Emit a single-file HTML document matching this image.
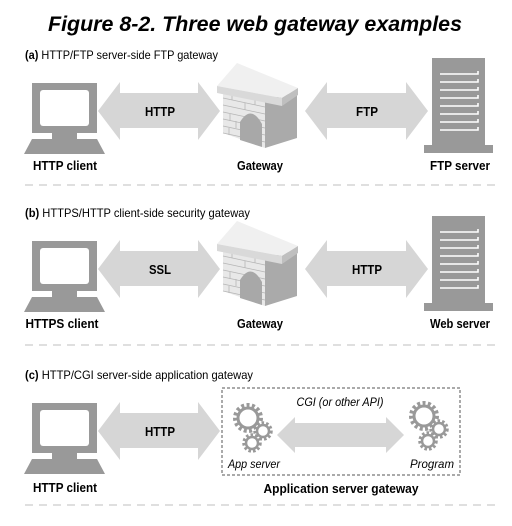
<!DOCTYPE html>
<html><head><meta charset="utf-8"><style>
html,body{margin:0;padding:0;background:#fff;}
svg{display:block;}
.t{font-family:"Liberation Sans Narrow","Liberation Sans",sans-serif;}
</style></head><body>
<svg width="512" height="526" viewBox="0 0 512 526" xmlns="http://www.w3.org/2000/svg">
<defs>
<g id="pc">
<rect x="32" y="83" width="65" height="50" fill="#999"/>
<rect x="40" y="90" width="49" height="36" rx="3" fill="#fff"/>
<rect x="52" y="133" width="25" height="6" fill="#999"/>
<polygon points="32,139 97,139 105,154 24,154" fill="#999"/>
</g>
<polygon id="arL" points="98,111 120,82 120,93 198,93 198,82 220,111 198,140 198,128 120,128 120,140" fill="#d6d6d6"/>
<polygon id="arR" points="305,111 327,82 327,93 406,93 406,82 428,111 406,140 406,128 327,128 327,140" fill="#d6d6d6"/>
<g id="gw">
<polygon points="223,91 265,100 265,148 223,133" fill="#e8e8e8"/>
<polygon points="265,100 297,92 297,138 265,148" fill="#aaa"/>
<g stroke="#b5b5b5" stroke-width="0.8">
<line x1="223" y1="98" x2="265" y2="107"/><line x1="223" y1="105" x2="265" y2="114"/>
<line x1="223" y1="112" x2="265" y2="121"/><line x1="223" y1="119" x2="265" y2="128"/>
<line x1="223" y1="126" x2="265" y2="135"/><line x1="223" y1="133" x2="265" y2="142"/>
<line x1="232" y1="93" x2="232" y2="100"/><line x1="245" y1="103" x2="245" y2="110"/><line x1="255" y1="98" x2="255" y2="105"/>
<line x1="230" y1="114" x2="230" y2="121"/><line x1="236" y1="121" x2="236" y2="128"/>
<line x1="229" y1="128" x2="229" y2="135"/><line x1="258" y1="121" x2="258" y2="128"/>
</g>
<path d="M240,140 L240,122 Q251,104 262,124 L262,147 Z" fill="#a8a8a8"/>
<polygon points="217,86 237,63 298,88 282,98" fill="#f0f0f0"/>
<polygon points="217,86 282,98 282,106 217,93" fill="#d9d9d9"/>
<polygon points="282,98 298,88 298,95 282,106" fill="#bfbfbf"/>
</g>
<g id="srv">
<rect x="432" y="58" width="53" height="89" fill="#999"/>
<rect x="424" y="145" width="69" height="8" fill="#999"/>
<g stroke="#fff" stroke-width="1.6" fill="none">
<path d="M440,74 H478 V71"/><path d="M440,82 H478 V79"/><path d="M440,90 H478 V87"/>
<path d="M440,98 H478 V95"/><path d="M440,106 H478 V103"/><path d="M440,114 H478 V111"/>
<path d="M440,122 H478 V119"/><path d="M440,130 H478 V127"/>
</g>
</g>
<g id="gears" fill="#fff" stroke="#999">
<circle cx="0" cy="0" r="13" stroke-width="4" stroke-dasharray="3 2.4"/>
<circle cx="0" cy="0" r="10" stroke-width="3"/>
<circle cx="15" cy="13" r="8" stroke-width="3.5" stroke-dasharray="2.5 2"/>
<circle cx="15" cy="13" r="6" stroke-width="2.5"/>
<circle cx="4" cy="25" r="8" stroke-width="3.5" stroke-dasharray="2.5 2"/>
<circle cx="4" cy="25" r="6" stroke-width="2.5"/>
</g>
<line id="sep" x1="25" y1="0" x2="495" y2="0" stroke="#ccc" stroke-width="1.2" stroke-dasharray="8 6"/>
</defs>

<text x="255" y="31" text-anchor="middle" font-family="Liberation Sans,sans-serif" font-weight="bold" font-style="italic" font-size="21" textLength="414" lengthAdjust="spacingAndGlyphs">Figure 8-2. Three web gateway examples</text>

<!-- (a) -->
<text class="t" x="25" y="59" font-size="12" textLength="193" lengthAdjust="spacingAndGlyphs"><tspan font-weight="bold">(a)</tspan> HTTP/FTP server-side FTP gateway</text>
<use href="#pc"/>
<use href="#arL"/><use href="#arR"/>
<use href="#gw"/><use href="#srv"/>
<g class="t" font-weight="bold" font-size="13" text-anchor="middle">
<text x="160" y="116" textLength="30" lengthAdjust="spacingAndGlyphs">HTTP</text>
<text x="367" y="116" textLength="22" lengthAdjust="spacingAndGlyphs">FTP</text>
<text x="65" y="170" textLength="64" lengthAdjust="spacingAndGlyphs">HTTP client</text>
<text x="260" y="170" textLength="46" lengthAdjust="spacingAndGlyphs">Gateway</text>
<text x="460" y="170" textLength="60" lengthAdjust="spacingAndGlyphs">FTP server</text>
</g>
<use href="#sep" y="185"/>

<!-- (b) -->
<text class="t" x="25" y="217" font-size="12" textLength="225" lengthAdjust="spacingAndGlyphs"><tspan font-weight="bold">(b)</tspan> HTTPS/HTTP client-side security gateway</text>
<g transform="translate(0,158)">
<use href="#pc"/>
<use href="#arL"/><use href="#arR"/>
<use href="#gw"/><use href="#srv"/>
<g class="t" font-weight="bold" font-size="13" text-anchor="middle">
<text x="160" y="116" textLength="22" lengthAdjust="spacingAndGlyphs">SSL</text>
<text x="367" y="116" textLength="30" lengthAdjust="spacingAndGlyphs">HTTP</text>
<text x="62" y="170" textLength="73" lengthAdjust="spacingAndGlyphs">HTTPS client</text>
<text x="260" y="170" textLength="46" lengthAdjust="spacingAndGlyphs">Gateway</text>
<text x="460" y="170" textLength="60" lengthAdjust="spacingAndGlyphs">Web server</text>
</g>
</g>
<use href="#sep" y="345"/>

<!-- (c) -->
<text class="t" x="25" y="379" font-size="12" textLength="228" lengthAdjust="spacingAndGlyphs"><tspan font-weight="bold">(c)</tspan> HTTP/CGI server-side application gateway</text>
<g transform="translate(0,320)">
<use href="#pc"/>
<use href="#arL"/>
</g>
<rect x="222" y="388" width="238" height="87" fill="none" stroke="#555" stroke-width="1" stroke-dasharray="3 2"/>
<polygon points="277,435 295,417 295,423 386,423 386,417 404,435 386,453 386,447 295,447 295,453" fill="#d6d6d6"/>
<use href="#gears" x="248" y="418"/>
<use href="#gears" x="424" y="416"/>
<g class="t" text-anchor="middle">
<text x="160" y="436" font-weight="bold" font-size="13" textLength="30" lengthAdjust="spacingAndGlyphs">HTTP</text>
<text x="65" y="492" font-weight="bold" font-size="13" textLength="64" lengthAdjust="spacingAndGlyphs">HTTP client</text>
<text x="340" y="406" font-style="italic" font-size="12" textLength="87" lengthAdjust="spacingAndGlyphs">CGI (or other API)</text>
<text x="254" y="468" font-style="italic" font-size="12" textLength="52" lengthAdjust="spacingAndGlyphs">App server</text>
<text x="432" y="468" font-style="italic" font-size="12" textLength="44" lengthAdjust="spacingAndGlyphs">Program</text>
<text x="341" y="493" font-weight="bold" font-size="13" textLength="155" lengthAdjust="spacingAndGlyphs">Application server gateway</text>
</g>
<use href="#sep" y="505"/>
</svg>
</body></html>
